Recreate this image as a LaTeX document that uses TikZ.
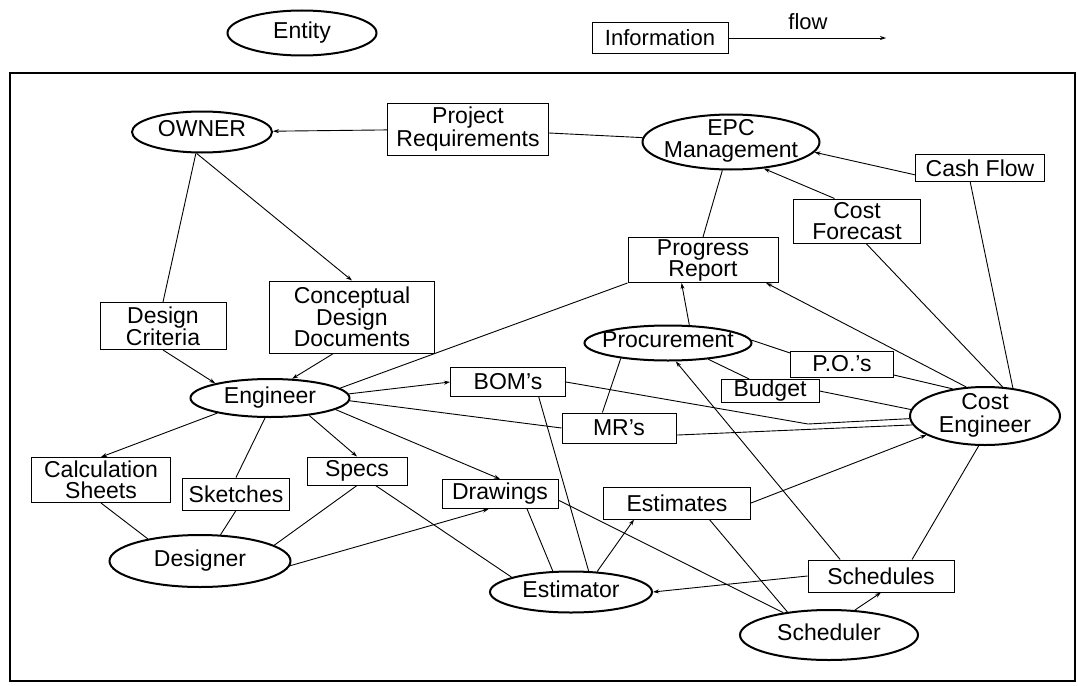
\documentclass[tikz,border=0pt]{standalone}
\usepackage{fontspec}
\setmainfont{Liberation Sans}
\usetikzlibrary{shapes.geometric}
\usetikzlibrary{arrows.meta}
\newcommand{\entname}[1]{\makebox[0pt]{\begin{tabular}{@{}c@{}}#1\end{tabular}}}

\begin{document}
\begin{tikzpicture}
		[x=1pt, y=-1pt,
		entity/.style={ellipse, draw=black, line width=2pt, inner xsep=0pt, inner ysep=-4pt, font=\fontsize{23}{21}\selectfont},
		info/.style={rectangle, draw=black, line width=1pt, inner sep=0pt, align=center, font=\fontsize{23}{21}\selectfont},
		link/.style={line width=0.9pt},
		>={Stealth[length=6pt,width=4pt]}]
		\useasboundingbox (0,0) rectangle (1078,685);

		\node[entity, minimum width=149pt, minimum height=45pt] (legEntity) at (302,33) {\entname{Entity}};
		\node[info, minimum width=136pt, minimum height=31pt, font=\fontsize{22}{21}\selectfont] (legInfo) at (660,38) {Information};
		\node[font=\fontsize{22}{21}\selectfont] (flowText) at (808,22) {flow};
		\coordinate (flowEnd) at (886,38);
		\draw[link, ->] (legInfo) -- (flowEnd);

		\draw[line width=1.3pt] (10,73) rectangle (1075,681);

		\node[entity, minimum width=140pt, minimum height=41pt] (owner) at (202,132) {\entname{OWNER}};
		\node[info, minimum width=161pt, minimum height=52pt] (projReq) at (468,129) {Project\\Requirements};
		\node[entity, minimum width=177pt, minimum height=55pt] (epc) at (731,142) {\entname{EPC\\Management}};
		\node[info, minimum width=129pt, minimum height=27pt] (cashFlow) at (980,168) {Cash Flow};
		\node[info, minimum width=127pt, minimum height=44pt] (costForecast) at (857,221) {Cost\\Forecast};
		\node[info, minimum width=150pt, minimum height=45pt] (progReport) at (703,260) {Progress\\Report};
		\node[info, minimum width=126pt, minimum height=47pt] (designCrit) at (163,326) {Design\\Criteria};
		\node[info, minimum width=165pt, minimum height=72pt] (concDocs) at (352,317) {Conceptual\\Design\\Documents};
		\node[entity, minimum width=167pt, minimum height=35pt] (procure) at (668,343) {\entname{Procurement}};
		\node[info, minimum width=103pt, minimum height=26pt] (pos) at (842,364) {P.O.'s};
		\node[info, minimum width=98pt, minimum height=23pt] (budget) at (770,391) {Budget};
		\node[entity, minimum width=159pt, minimum height=38pt] (engineer) at (270,398) {\entname{Engineer}};
		\node[info, minimum width=115pt, minimum height=29pt] (boms) at (508,382) {BOM's};
		\node[info, minimum width=114pt, minimum height=30pt] (mrs) at (619,428) {MR's};
		\node[entity, minimum width=150pt, minimum height=58pt] (costEng) at (985,416) {\entname{Cost\\Engineer}};
		\node[info, minimum width=139pt, minimum height=45pt] (calcSheets) at (101,480) {Calculation\\Sheets};
		\node[info, minimum width=107pt, minimum height=32pt] (sketches) at (236,494) {Sketches};
		\node[info, minimum width=100pt, minimum height=28pt] (specs) at (357,471) {Specs};
		\node[info, minimum width=116pt, minimum height=29pt] (drawings) at (500,494) {Drawings};
		\node[info, minimum width=147pt, minimum height=32pt] (estimates) at (677,503) {Estimates};
		\node[entity, minimum width=181pt, minimum height=52pt] (designer) at (200,561) {\entname{Designer}};
		\node[entity, minimum width=162pt, minimum height=41pt] (estimator) at (571,592) {\entname{Estimator}};
		\node[info, minimum width=146pt, minimum height=32pt] (schedules) at (881,576) {Schedules};
		\node[entity, minimum width=178pt, minimum height=50pt] (scheduler) at (829,635) {\entname{Scheduler}};
		\coordinate (bomBend) at (808,424);

		\draw[link, ->] (projReq) -- (owner);
		\draw[link] (projReq) -- (epc);
		\draw[link] (owner.254) -- (designCrit.north);
		\draw[link, ->] (owner.256) -- (concDocs.north);
		\draw[link, ->] (designCrit.south) -- (engineer.165);
		\draw[link, ->] (concDocs.243) -- (engineer.41);
		\draw[link] (engineer.8) -- (progReport.south west);
		\draw[link, ->] (engineer.3) -- (boms.west);
		\draw[link] (engineer.358) -- (mrs.west);
		\draw[link, ->] (engineer.196) -- (calcSheets.north);
		\draw[link] (engineer.256) -- (sketches.north);
		\draw[link, ->] (engineer.336) -- (specs.north);
		\draw[link, ->] (engineer.350) -- (drawings.north);
		\draw[link] (calcSheets.south) -- (designer.157);
		\draw[link] (sketches.south) -- (designer.52);
		\draw[link] (designer.12) -- (specs.south);
		\draw[link, ->] (designer.357) -- (drawings.233);
		\draw[link] (specs.322) -- (estimator.166);
		\draw[link] (drawings.331) -- (estimator.131);
		\draw[link] (drawings.354) -- (scheduler.154);
		\draw[link] (boms.334) -- (estimator.50);
		\draw[link, ->] (estimator.38) -- (estimates.201);
		\draw[link, ->] (estimates.east) -- (costEng.198);
		\draw[link] (estimates.333) -- (scheduler.151);
		\draw[link, ->] (schedules.west) -- (estimator.east);
		\draw[link, ->] (scheduler.44) -- (schedules.south);
		\draw[link] (costEng.258) -- (schedules.28);
		\draw[link, ->] (schedules.158) -- (procure.293);
		\draw[link] (procure.198) -- (mrs.137);
		\draw[link] (procure.338) -- (budget.150);
		\draw[link] (procure.2) -- (pos.168);
		\draw[link, ->] (procure.40) -- (progReport.227);
		\draw[link, ->] (costEng.123) -- (progReport.340);
		\draw[link] (pos.348) -- (costEng.140);
		\draw[link] (budget.east) -- (costEng.175);
		\draw[link] (boms.east) -- (bomBend) -- (costEng.182);
		\draw[link] (mrs.353) -- (costEng.187);
		\draw[link] (costForecast.292) -- (costEng.59);
		\draw[link] (cashFlow.235) -- (costEng.45);
		\draw[link, ->] (costForecast.135) -- (epc.321);
		\draw[link, ->] (cashFlow.186) -- (epc.353);
		\draw[link] (epc.253) -- (progReport.north);
	\end{tikzpicture}
\end{document}
